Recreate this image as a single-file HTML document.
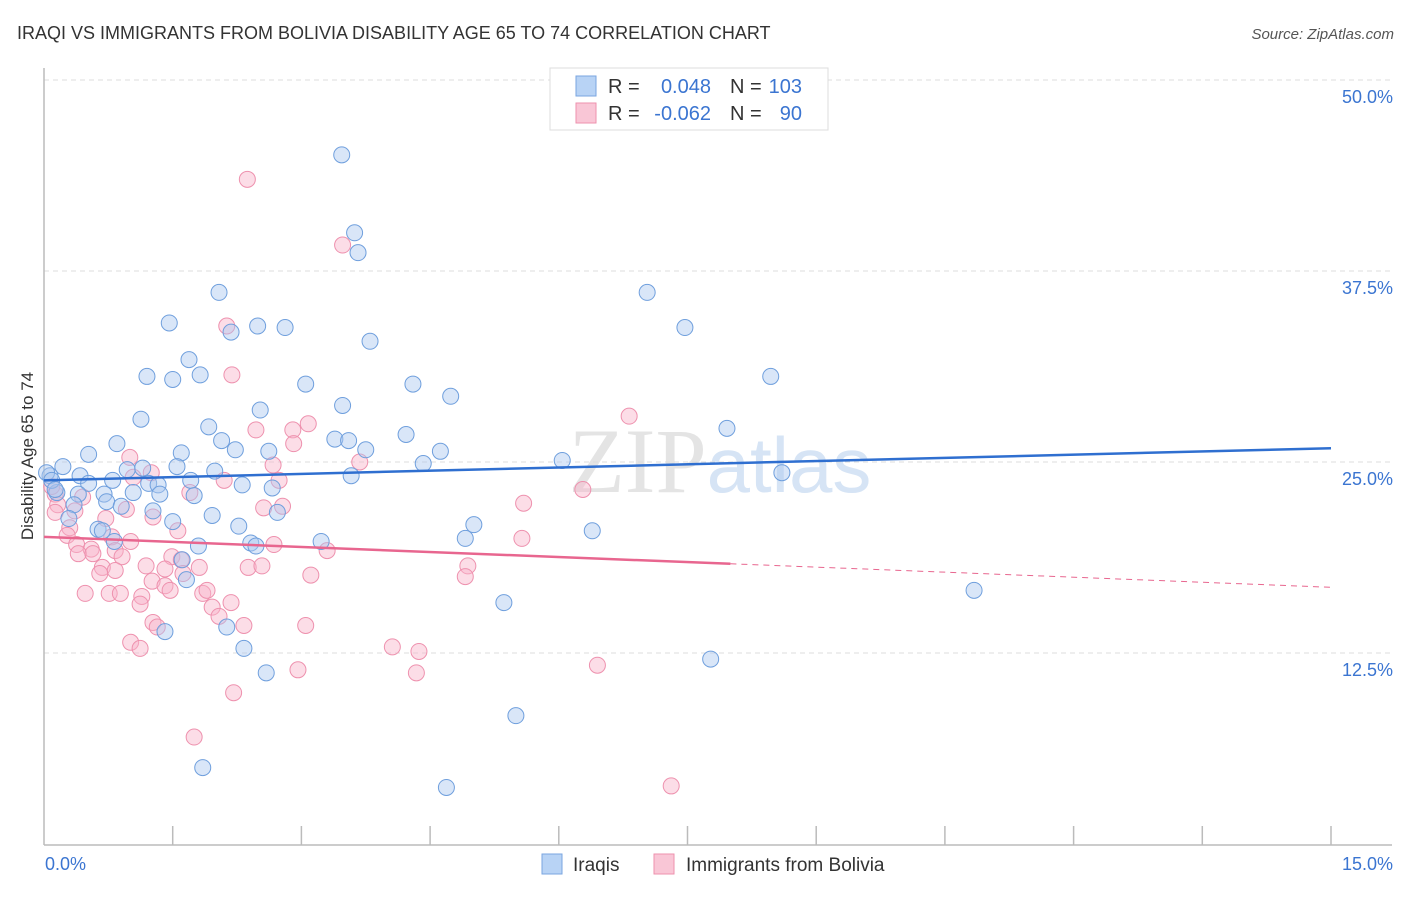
<!DOCTYPE html>
<html><head><meta charset="utf-8"><style>
body{margin:0;background:#fff;font-family:"Liberation Sans",sans-serif}
</style></head><body>
<svg id="chart" width="1406" height="892" xmlns="http://www.w3.org/2000/svg" font-family="Liberation Sans, sans-serif">
<text x="17" y="39" font-size="18" fill="#333">IRAQI VS IMMIGRANTS FROM BOLIVIA DISABILITY AGE 65 TO 74 CORRELATION CHART</text>
<text x="1394" y="39" font-size="15" fill="#555" font-style="italic" text-anchor="end">Source: ZipAtlas.com</text>
<text x="720" y="492" font-size="92" fill="#e4e4e4" text-anchor="middle" font-family="Liberation Serif, serif">ZIP<tspan fill="#d6e4f5" font-family="Liberation Sans, sans-serif" font-size="78">atlas</tspan></text>
<text transform="translate(33,456) rotate(-90)" font-size="17" fill="#333" text-anchor="middle">Disability Age 65 to 74</text>
<g id="grid"></g><g id="axes"></g><g id="pts"></g><g id="trend"></g>
<g>
<rect x="550" y="68" width="278" height="62" fill="#fff" stroke="#ddd"/>
<rect x="576" y="76" width="20" height="20" fill="#b8d3f5" stroke="#7aa6e0"/>
<rect x="576" y="103" width="20" height="20" fill="#f9c6d6" stroke="#ee91ae"/>
<text x="608" y="93" font-size="20" fill="#333">R =</text><text x="711" y="93" font-size="20" fill="#3b75d1" text-anchor="end">0.048</text>
<text x="730" y="93" font-size="20" fill="#333">N =</text><text x="802" y="93" font-size="20" fill="#3b75d1" text-anchor="end">103</text>
<text x="608" y="120" font-size="20" fill="#333">R =</text><text x="711" y="120" font-size="20" fill="#3b75d1" text-anchor="end">-0.062</text>
<text x="730" y="120" font-size="20" fill="#333">N =</text><text x="802" y="120" font-size="20" fill="#3b75d1" text-anchor="end">90</text>
</g>
<g>
<rect x="542" y="854" width="20" height="20" fill="#b8d3f5" stroke="#7aa6e0"/>
<text x="573" y="871" font-size="19" fill="#333">Iraqis</text>
<rect x="654" y="854" width="20" height="20" fill="#f9c6d6" stroke="#ee91ae"/>
<text x="686" y="871" font-size="19" fill="#333">Immigrants from Bolivia</text>
</g>
</svg>
<script>
const xTicks=[0,1.5,3,4.5,6,7.5,9,10.5,12,13.5,15];
const yTicks=[12.5,25,37.5,50];
const yTickLabels=["12.5%","25.0%","37.5%","50.0%"];
const iraqiX=[3.47,3.62,3.66,2.04,7.03,1.46,2.18,2.49,2.81,7.47,3.80,1.69,1.20,1.50,1.82,8.47,3.05,4.30,4.74,3.48,2.52,1.13,1.92,7.96,4.22,3.39,3.55,2.07,0.85,3.75,2.23,2.62,4.62,1.60,0.52,6.04,4.42,1.55,0.22,0.97,1.15,1.99,3.58,8.60,0.07,0.42,0.52,0.80,1.22,1.33,1.71,2.31,2.66,0.15,0.40,0.70,1.04,1.35,1.75,0.73,0.35,0.90,1.27,1.96,2.72,0.29,1.50,5.01,0.63,2.27,0.68,6.39,4.91,3.23,0.82,2.41,2.47,1.80,1.61,1.66,10.84,5.36,1.41,2.13,2.33,7.77,2.59,5.50,1.85,4.69,0.03,0.09,0.13];
const iraqiY=[45.1,40.0,38.7,36.1,36.1,34.1,33.5,33.9,33.8,33.8,32.9,31.7,30.6,30.4,30.7,30.6,30.1,30.1,29.3,28.7,28.4,27.8,27.3,27.2,26.8,26.5,26.4,26.4,26.2,25.8,25.8,25.7,25.7,25.6,25.5,25.1,24.9,24.7,24.7,24.5,24.6,24.4,24.1,24.3,24.1,24.1,23.6,23.8,23.6,23.5,23.8,23.5,23.3,23.0,22.9,22.9,23.0,22.9,22.8,22.4,22.2,22.1,21.8,21.5,21.7,21.3,21.1,20.9,20.6,20.8,20.5,20.5,20.0,19.8,19.8,19.7,19.5,19.5,18.6,17.3,16.6,15.8,13.9,14.2,12.8,12.1,11.2,8.4,5.0,3.7,24.3,23.8,23.2];
const bolX=[2.37,3.48,2.13,2.19,6.82,3.08,2.90,2.47,2.91,1.00,3.68,2.67,1.25,1.04,2.10,2.74,6.28,1.70,0.13,0.45,5.59,2.78,2.56,0.16,0.96,0.36,1.27,0.72,0.13,1.56,0.30,0.27,0.79,5.57,0.38,1.01,2.68,3.30,0.55,0.83,0.40,0.57,1.49,0.91,1.60,4.94,0.68,1.19,1.81,2.38,2.54,1.41,0.83,0.65,1.62,3.11,4.91,1.26,1.41,0.48,0.76,0.89,1.47,1.14,1.85,1.90,1.12,1.96,2.18,2.04,1.27,1.32,2.33,3.05,1.01,1.12,4.06,4.37,2.96,4.34,6.45,2.21,1.75,7.31,0.09];
const bolY=[43.5,39.2,33.9,30.7,28.0,27.5,27.1,27.1,26.2,25.3,25.0,24.8,24.3,24.0,23.8,23.8,23.2,23.0,22.9,22.7,22.3,22.1,22.0,22.2,21.9,21.8,21.4,21.3,21.7,20.5,20.7,20.2,20.1,20.0,19.6,19.8,19.6,19.2,19.3,19.2,19.0,19.0,18.8,18.8,18.6,18.2,18.1,18.2,18.1,18.1,18.2,18.0,17.9,17.7,17.7,17.6,17.5,17.2,16.9,16.4,16.4,16.4,16.6,16.2,16.4,16.6,15.7,15.5,15.8,14.9,14.5,14.2,14.3,14.3,13.2,12.8,12.9,12.6,11.4,11.2,11.7,9.9,7.0,3.8,23.4];
const iraqiTrend=[23.8,25.9];
const bolTrend=[20.1,16.8];
const bolSolidEnd=8.0;

const NS="http://www.w3.org/2000/svg";
const X0=44,X1=1331,YB=844;
const sx=v=>X0+(v/15)*(X1-X0);
const sy=v=>YB-v*(191/12.5);
function mk(tag,attrs,parent){const e=document.createElementNS(NS,tag);for(const k in attrs)e.setAttribute(k,attrs[k]);document.getElementById(parent).appendChild(e);return e;}
yTicks.forEach((t,i)=>{
  const g=mk('line',{x1:X0,x2:1392,y1:sy(t),y2:sy(t),stroke:'#dcdcdc','stroke-dasharray':'5,4'},'grid');
  
  
  const l=mk('text',{x:1393,y:sy(t)+23,'font-size':18,fill:'#3b75d1','text-anchor':'end'},'grid');
  l.textContent=yTickLabels[i];
  
  
});
let a=mk('line',{x1:X0,x2:X0,y1:68,y2:YB+1,stroke:'#bbb','stroke-width':1.5},'axes');


a=mk('line',{x1:X0,x2:1392,y1:YB+1,y2:YB+1,stroke:'#bbb','stroke-width':1.5},'axes');


xTicks.forEach((t,i)=>{if(i===0)return;const e=mk('line',{x1:sx(t),x2:sx(t),y1:826,y2:YB+1,stroke:'#bbb','stroke-width':1.5},'axes');
  
  });
let t=mk('text',{x:45,y:870,'font-size':18,fill:'#3b75d1'},'axes');t.textContent='0.0%';


t=mk('text',{x:1393,y:870,'font-size':18,fill:'#3b75d1','text-anchor':'end'},'axes');t.textContent='15.0%';


bolX.forEach((x,i)=>{const c=mk('circle',{cx:sx(x),cy:sy(bolY[i]),r:8,fill:'rgba(248,180,202,0.45)',stroke:'#ee91ae','stroke-width':1},'pts');
  
  });
iraqiX.forEach((x,i)=>{const c=mk('circle',{cx:sx(x),cy:sy(iraqiY[i]),r:8,fill:'rgba(170,200,240,0.45)',stroke:'#6f9fdd','stroke-width':1},'pts');
  
  });
let l=mk('line',{x1:sx(0),y1:sy(iraqiTrend[0]),x2:sx(15),y2:sy(iraqiTrend[1]),stroke:'#2f6fd0','stroke-width':2.5},'trend');


const bm=v=>bolTrend[0]+(bolTrend[1]-bolTrend[0])*v/15;
l=mk('line',{x1:sx(0),y1:sy(bm(0)),x2:sx(bolSolidEnd),y2:sy(bm(bolSolidEnd)),stroke:'#e8668f','stroke-width':2.5},'trend');


l=mk('line',{x1:sx(bolSolidEnd),y1:sy(bm(bolSolidEnd)),x2:sx(15),y2:sy(bm(15)),stroke:'#e8668f','stroke-width':1,'stroke-dasharray':'6,5'},'trend');


</script>
</body></html>
